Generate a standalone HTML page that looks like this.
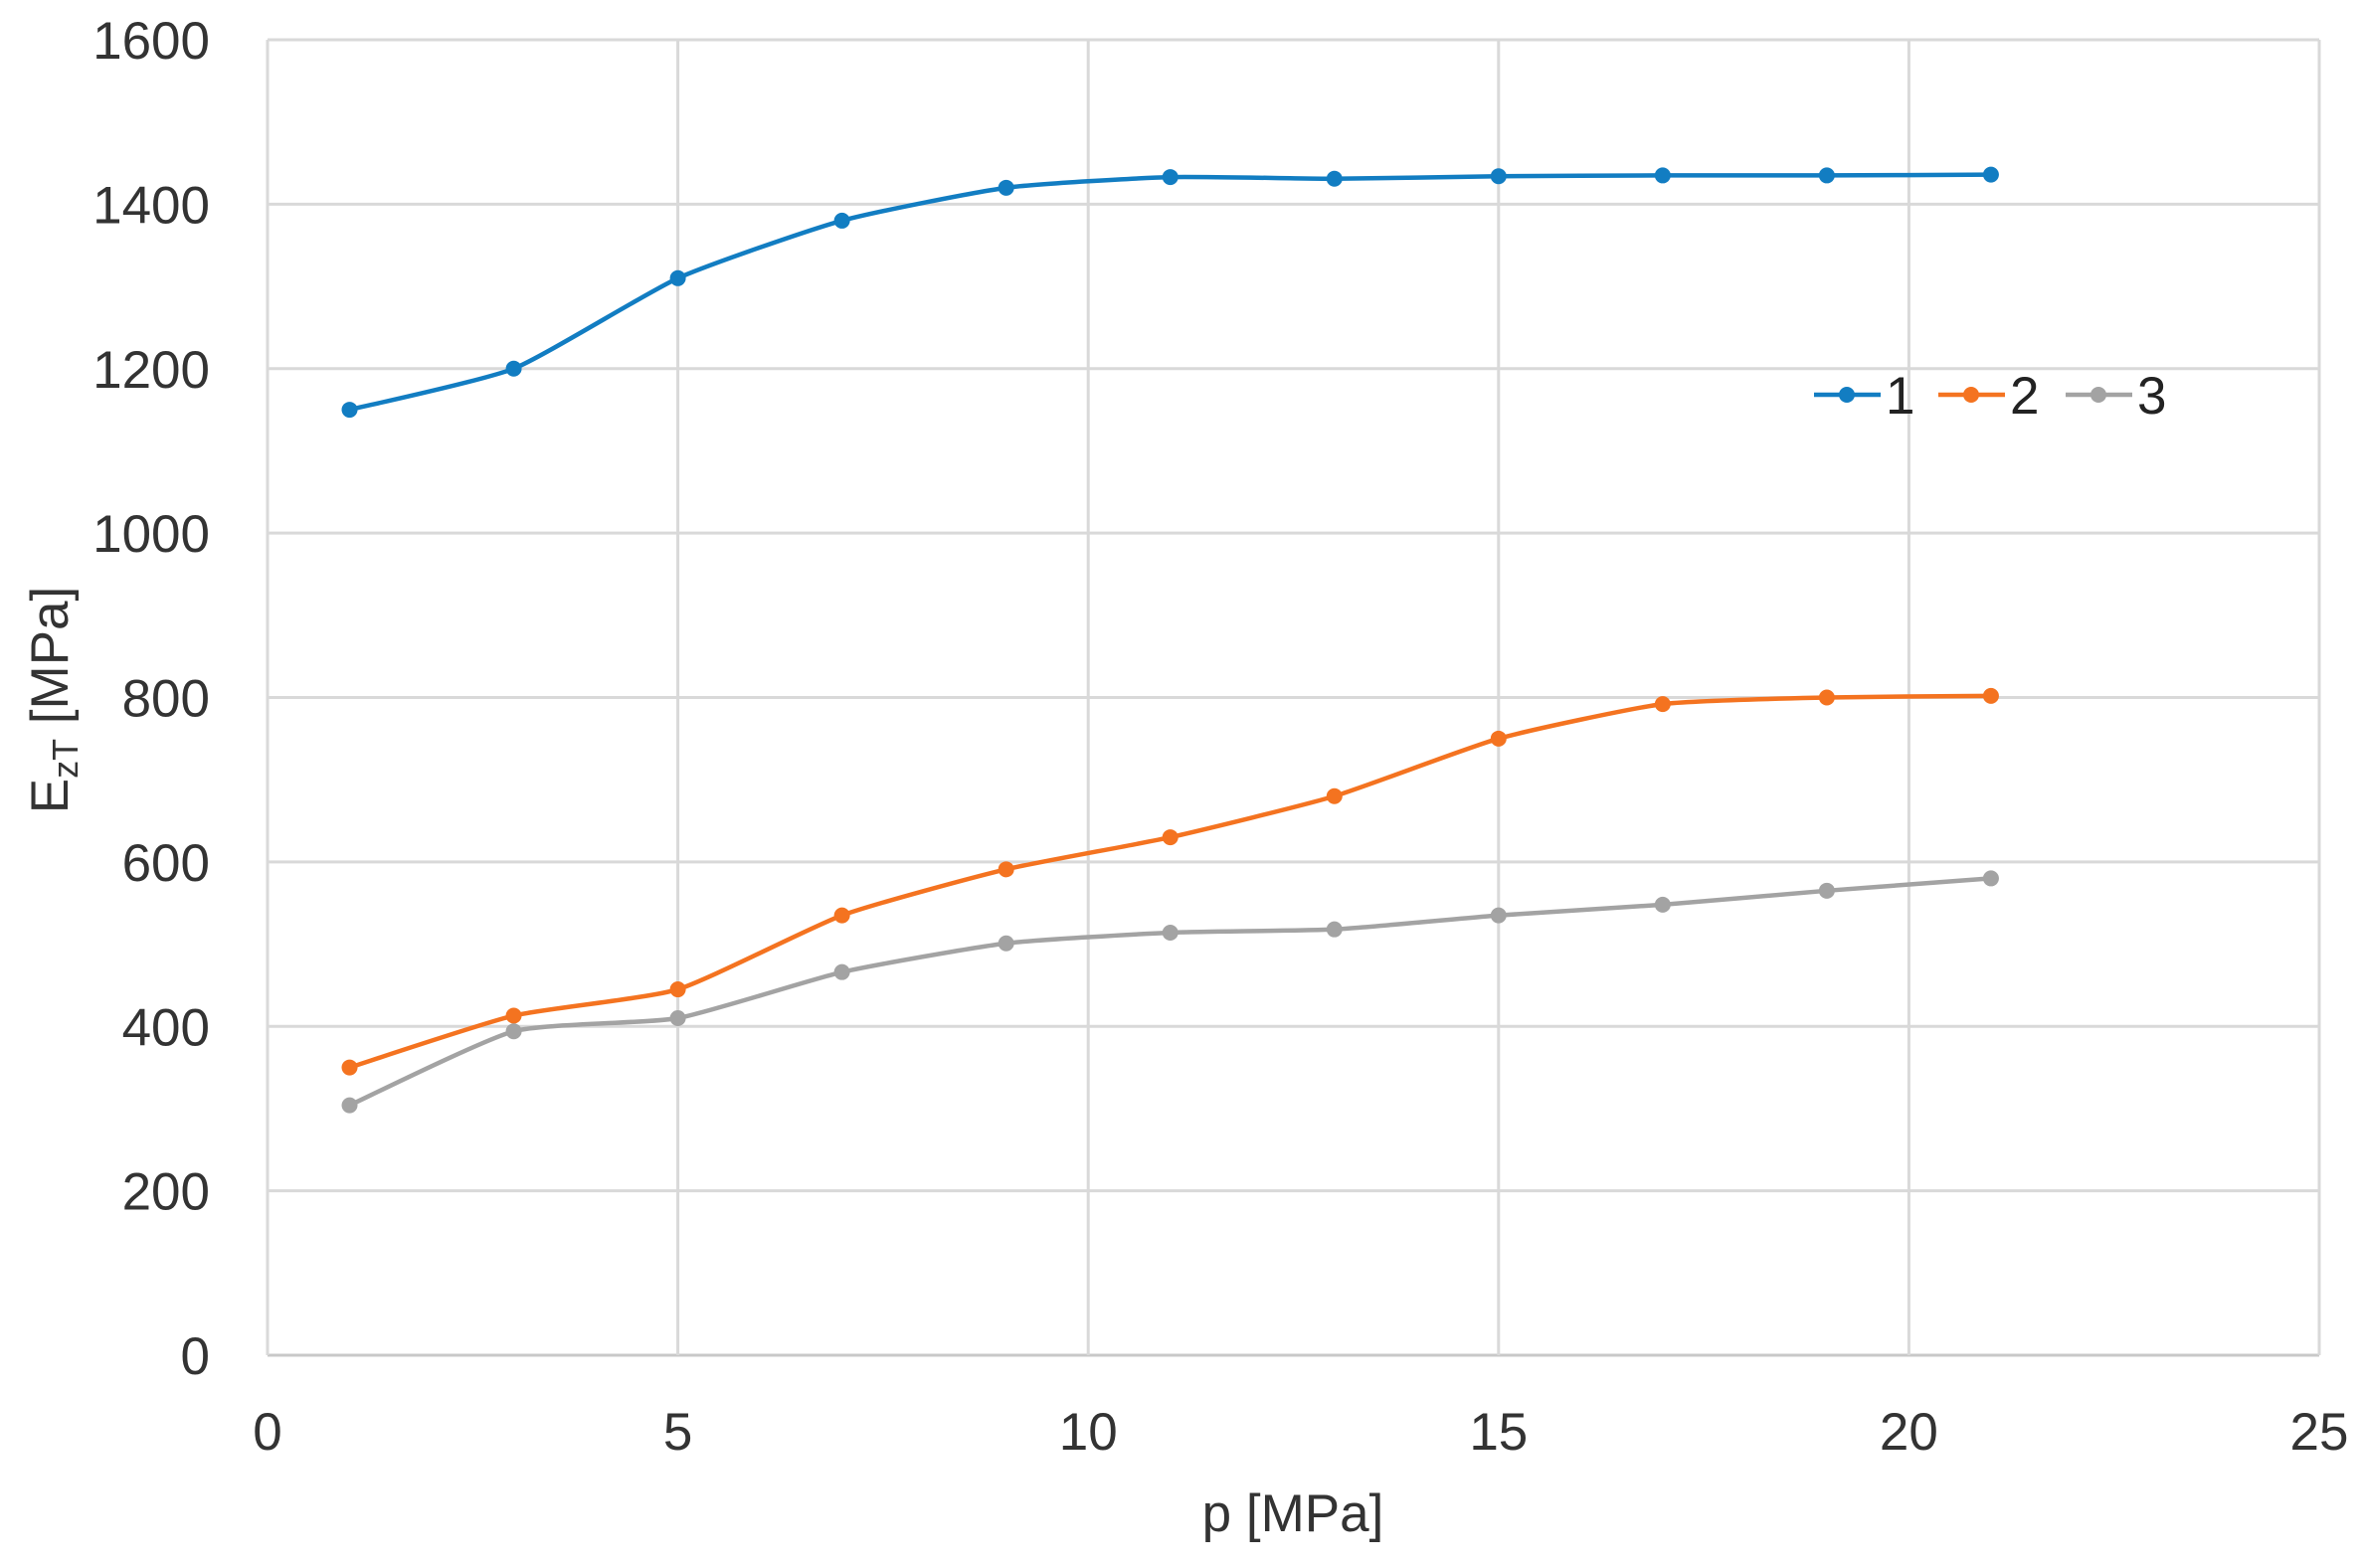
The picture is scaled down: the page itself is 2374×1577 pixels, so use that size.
<!DOCTYPE html>
<html><head><meta charset="utf-8"><style>
html,body{margin:0;padding:0;background:#fff;}
svg{display:block;font-family:"Liberation Sans",sans-serif;}
</style></head><body>
<svg id="chart" width="2374" height="1577" viewBox="0 0 2374 1577" xmlns="http://www.w3.org/2000/svg">
<rect width="2374" height="1577" fill="#fff"/>
<g id="grid"></g>
<g id="yticks"></g>
<g id="xticks"></g>
<g id="series"></g>
<text x="1300" y="1540" font-size="53" fill="#333" text-anchor="middle">p [MPa]</text>
<text transform="translate(68,704) rotate(-90)" font-size="53" fill="#333" text-anchor="middle">E<tspan font-size="36" dy="10">zT</tspan><tspan dy="-10"> [MPa]</tspan></text>
<g id="legend"></g>
</svg>
<script>
const xValues = [1,3,5,7,9,11,13,15,17,19,21];
const series1 = [1150,1200,1310,1380,1420,1433,1431,1434,1435,1435,1436];
const series2 = [350,413,445,535,591,630,680,750,792,800,802];
const series3 = [304,394,410,466,501,514,518,535,548,565,580];
const seriesNames = ["1","2","3"];
const xTicks = [0,5,10,15,20,25];
const yTicks = [0,200,400,600,800,1000,1200,1400,1600];

const L=269,R=2332,T=40,B=1363;
const xMin=0,xMax=25,yMin=0,yMax=1600;
const sx=v=>L+(v-xMin)/(xMax-xMin)*(R-L);
const sy=v=>B-(v-yMin)/(yMax-yMin)*(B-T);
const NS="http://www.w3.org/2000/svg";
function mk(tag,attrs,parent){const e=document.createElementNS(NS,tag);for(const k in attrs)e.setAttribute(k,attrs[k]);parent.appendChild(e);return e;}

const grid=document.getElementById('grid');
yTicks.forEach(v=>{
  const l=mk('line',{x1:L,x2:R,y1:sy(v),y2:sy(v),stroke:v===0?'#c8c8c8':'#d9d9d9','stroke-width':3},grid);
  
  
});
xTicks.forEach(v=>{
  const l=mk('line',{x1:sx(v),x2:sx(v),y1:T,y2:B,stroke:'#d9d9d9','stroke-width':3},grid);
  
  
});
const yt=document.getElementById('yticks');
yTicks.forEach(v=>{
  const t=mk('text',{x:211,y:sy(v)+19,'font-size':53,fill:'#333','text-anchor':'end'},yt);
  t.textContent=v;
  
  
});
const xt=document.getElementById('xticks');
xTicks.forEach(v=>{
  const t=mk('text',{x:sx(v),y:1458,'font-size':53,fill:'#333','text-anchor':'middle'},xt);
  t.textContent=v;
  
  
});
function smooth(pts){
  let d=`M${pts[0][0]},${pts[0][1]}`;
  for(let i=0;i<pts.length-1;i++){
    const p0=pts[Math.max(i-1,0)],p1=pts[i],p2=pts[i+1],p3=pts[Math.min(i+2,pts.length-1)];
    const k=0.09;
    const c1=[p1[0]+(p2[0]-p0[0])*k,p1[1]+(p2[1]-p0[1])*k];
    const c2=[p2[0]-(p3[0]-p1[0])*k,p2[1]-(p3[1]-p1[1])*k];
    d+=` C${c1[0]},${c1[1]} ${c2[0]},${c2[1]} ${p2[0]},${p2[1]}`;
  }
  return d;
}
const colors=['#127dc2','#f47320','#a3a3a3'];
const sg=document.getElementById('series');
[series1,series2,series3].forEach((s,si)=>{
  const g=mk('g',{},sg);
  
  
  const pts=s.map((v,i)=>[sx(xValues[i]),sy(v)]);
  const p=mk('path',{d:smooth(pts),fill:'none',stroke:colors[si],'stroke-width':4.5},g);
  
  
  pts.forEach(pt=>{
    const c=mk('circle',{cx:pt[0],cy:pt[1],r:8,fill:colors[si]},g);
    
    
  });
});
const lg=document.getElementById('legend');
const lx=[1824,1949,2077];
seriesNames.forEach((n,i)=>{
  const g=mk('g',{},lg);
  
  
  mk('line',{x1:lx[i],x2:lx[i]+67,y1:397,y2:397,stroke:colors[i],'stroke-width':4.5},g);
  mk('circle',{cx:lx[i]+33,cy:397,r:8,fill:colors[i]},g);
  const t=mk('text',{x:lx[i]+72,y:416,'font-size':53,fill:'#222'},g);
  t.textContent=n;
});
</script>
</body></html>
